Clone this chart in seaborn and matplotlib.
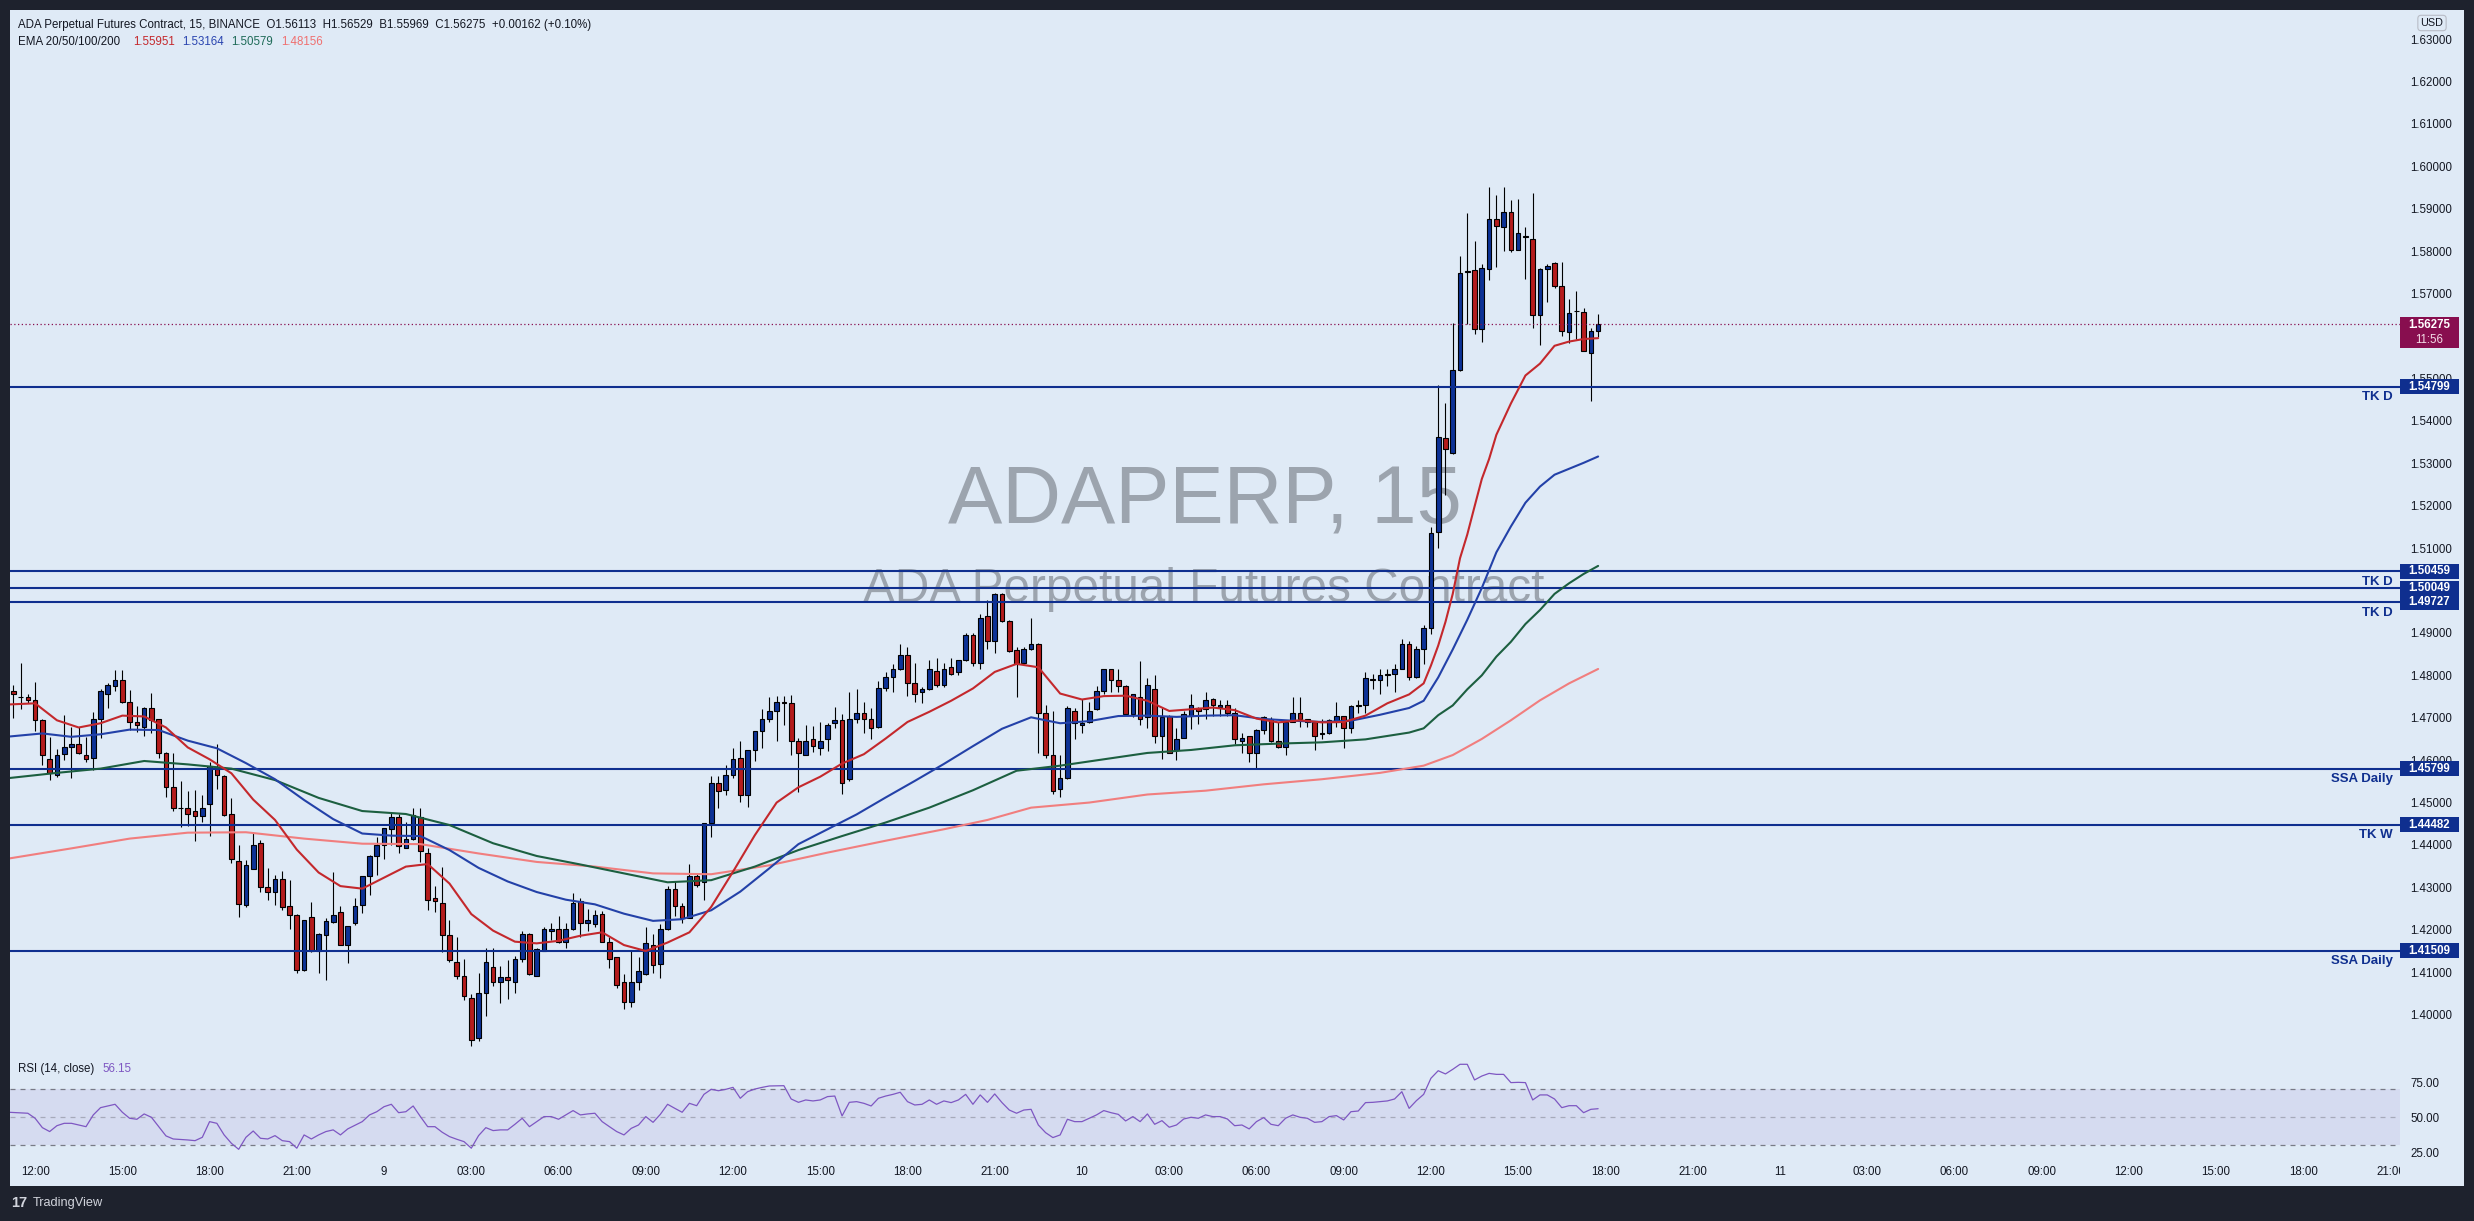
import numpy as np
import pandas as pd
import matplotlib
matplotlib.use("Agg")
import matplotlib.pyplot as plt
from matplotlib.patches import Rectangle
import seaborn as sns

# ---------------- data ----------------
opens = [
1.4764,1.4750,1.4748,1.4743,1.4694,1.4602,1.4566,1.4614,1.4632,1.4637,
1.4613,1.4606,1.4696,1.4757,1.4776,1.4790,1.4736,1.4689,1.4679,1.4724,
1.4696,1.4616,1.4536,1.4488,1.4486,1.4479,1.4469,1.4496,1.4580,1.4562,
1.4474,1.4363,1.4258,1.4344,1.4404,1.4302,1.4290,1.4319,1.4255,1.4236,
1.4106,1.4229,1.4149,1.4187,1.4219,1.4242,1.4165,1.4216,1.4259,1.4326,
1.4374,1.4401,1.4438,1.4467,1.4394,1.4413,1.4466,1.4380,1.4276,1.4262,
1.4187,1.4125,1.4090,1.4040,1.3946,1.4050,1.4113,1.4078,1.4088,1.4078,
1.4132,1.4191,1.4092,1.4151,1.4196,1.4203,1.4172,1.4201,1.4269,1.4215,
1.4213,1.4238,1.4172,1.4135,1.4076,1.4029,1.4076,1.4095,1.4165,1.4120,
1.4201,1.4297,1.4255,1.4228,1.4326,1.4312,1.4451,1.4545,1.4529,1.4566,
1.4604,1.4519,1.4623,1.4668,1.4698,1.4717,1.4738,1.4734,1.4644,1.4613,
1.4649,1.4628,1.4651,1.4687,1.4694,1.4556,1.4696,1.4710,1.4698,1.4677,
1.4769,1.4797,1.4814,1.4847,1.4783,1.4760,1.4767,1.4811,1.4778,1.4819,
1.4809,1.4835,1.4894,1.4828,1.4939,1.4882,1.4992,1.4929,1.4859,1.4828,
1.4861,1.4875,1.4710,1.4613,1.4533,1.4557,1.4717,1.4684,1.4689,1.4720,
1.4764,1.4814,1.4788,1.4776,1.4708,1.4748,1.4701,1.4767,1.4656,1.4705,
1.4623,1.4653,1.4705,1.4724,1.4720,1.4745,1.4726,1.4729,1.4712,1.4646,
1.4656,1.4616,1.4672,1.4698,1.4644,1.4630,1.4691,1.4710,1.4696,1.4689,
1.4661,1.4663,1.4691,1.4703,1.4675,1.4727,1.4729,1.4790,1.4790,1.4800,
1.4802,1.4816,1.4873,1.4795,1.4861,1.4912,1.5137,1.5360,1.5324,1.5519,
1.5751,1.5756,1.5617,1.5758,1.5877,1.5856,1.5893,1.5803,1.5834,1.5829,
1.5650,1.5759,1.5772,1.5718,1.5609,1.5658,1.5657,1.5561,1.56113]

highs = [
1.4777,1.4828,1.4756,1.4784,1.4697,1.4654,1.4626,1.4706,1.4677,1.4679,
1.4655,1.4714,1.4767,1.4782,1.4812,1.4812,1.4765,1.4727,1.4726,1.4759,
1.4698,1.4620,1.4618,1.4551,1.4527,1.4529,1.4519,1.4596,1.4639,1.4564,
1.4510,1.4400,1.4364,1.4429,1.4411,1.4346,1.4329,1.4338,1.4317,1.4238,
1.4224,1.4265,1.4193,1.4227,1.4336,1.4256,1.4210,1.4275,1.4327,1.4376,
1.4419,1.4440,1.4478,1.4474,1.4455,1.4487,1.4486,1.4394,1.4303,1.4347,
1.4223,1.4183,1.4131,1.4048,1.4097,1.4158,1.4158,1.4115,1.4128,1.4138,
1.4196,1.4193,1.4158,1.4207,1.4215,1.4232,1.4215,1.4286,1.4275,1.4248,
1.4246,1.4245,1.4183,1.4137,1.4095,1.4151,1.4136,1.4206,1.4191,1.4214,
1.4303,1.4314,1.4264,1.4356,1.4333,1.4452,1.4562,1.4562,1.4589,1.4628,
1.4644,1.4625,1.4669,1.4720,1.4748,1.4752,1.4752,1.4753,1.4653,1.4683,
1.4680,1.4689,1.4687,1.4725,1.4708,1.4760,1.4767,1.4736,1.4722,1.4787,
1.4808,1.4826,1.4875,1.4866,1.4828,1.4773,1.4837,1.4840,1.4828,1.4842,
1.4837,1.4899,1.4899,1.4944,1.4977,1.4995,1.4995,1.4931,1.4866,1.4866,
1.4935,1.4877,1.4731,1.4715,1.4611,1.4727,1.4722,1.4745,1.4738,1.4776,
1.4816,1.4816,1.4816,1.4778,1.4757,1.4834,1.4793,1.4800,1.4722,1.4707,
1.4675,1.4717,1.4757,1.4726,1.4760,1.4747,1.4742,1.4742,1.4724,1.4663,
1.4658,1.4673,1.4705,1.4701,1.4691,1.4694,1.4750,1.4750,1.4698,1.4691,
1.4698,1.4698,1.4736,1.4705,1.4729,1.4743,1.4807,1.4802,1.4816,1.4814,
1.4826,1.4885,1.4880,1.4868,1.4918,1.5149,1.5484,1.5442,1.5631,1.5788,
1.5889,1.5824,1.5769,1.5951,1.5932,1.5951,1.5921,1.5923,1.5858,1.5937,
1.5760,1.5771,1.5774,1.5775,1.5688,1.5707,1.5666,1.5618,1.56529]

lows = [
1.4700,1.4720,1.4734,1.4669,1.4589,1.4553,1.4560,1.4600,1.4559,1.4615,
1.4596,1.4576,1.4653,1.4723,1.4764,1.4735,1.4672,1.4667,1.4657,1.4665,
1.4606,1.4514,1.4481,1.4443,1.4444,1.4410,1.4455,1.4422,1.4532,1.4468,
1.4358,1.4231,1.4254,1.4343,1.4289,1.4271,1.4258,1.4246,1.4202,1.4099,
1.4102,1.4147,1.4099,1.4081,1.4217,1.4164,1.4122,1.4211,1.4240,1.4281,
1.4329,1.4367,1.4401,1.4380,1.4393,1.4412,1.4360,1.4246,1.4242,1.4148,
1.4125,1.4085,1.4034,1.3926,1.3938,1.3997,1.4068,1.4028,1.4036,1.4052,
1.4123,1.4094,1.4091,1.4150,1.4176,1.4168,1.4156,1.4200,1.4183,1.4197,
1.4207,1.4171,1.4111,1.4062,1.4014,1.4018,1.4058,1.4094,1.4099,1.4087,
1.4200,1.4233,1.4217,1.4227,1.4301,1.4271,1.4419,1.4488,1.4518,1.4558,
1.4502,1.4490,1.4599,1.4629,1.4691,1.4646,1.4684,1.4613,1.4524,1.4612,
1.4620,1.4613,1.4622,1.4675,1.4521,1.4550,1.4687,1.4665,1.4651,1.4676,
1.4764,1.4761,1.4813,1.4752,1.4738,1.4734,1.4766,1.4773,1.4773,1.4800,
1.4800,1.4833,1.4823,1.4814,1.4861,1.4852,1.4926,1.4854,1.4749,1.4827,
1.4860,1.4618,1.4604,1.4521,1.4514,1.4556,1.4649,1.4665,1.4688,1.4719,
1.4757,1.4760,1.4760,1.4706,1.4701,1.4682,1.4675,1.4641,1.4603,1.4616,
1.4601,1.4652,1.4673,1.4686,1.4698,1.4705,1.4705,1.4703,1.4639,1.4618,
1.4595,1.4580,1.4661,1.4642,1.4628,1.4611,1.4690,1.4677,1.4677,1.4625,
1.4649,1.4662,1.4679,1.4628,1.4665,1.4712,1.4710,1.4767,1.4757,1.4776,
1.4760,1.4814,1.4788,1.4794,1.4826,1.4898,1.5100,1.5226,1.5322,1.5517,
1.5629,1.5604,1.5585,1.5732,1.5763,1.5800,1.5798,1.5802,1.5734,1.5620,
1.5579,1.5680,1.5713,1.5601,1.5584,1.5594,1.5564,1.5446,1.55969]

closes = [
1.4755,1.4748,1.4743,1.4694,1.4611,1.4569,1.4613,1.4632,1.4637,1.4617,
1.4602,1.4696,1.4763,1.4777,1.4790,1.4736,1.4689,1.4684,1.4722,1.4694,
1.4617,1.4536,1.4488,1.4487,1.4472,1.4469,1.4488,1.4587,1.4564,1.4470,
1.4366,1.4260,1.4352,1.4399,1.4301,1.4290,1.4319,1.4253,1.4236,1.4106,
1.4222,1.4149,1.4191,1.4220,1.4234,1.4165,1.4209,1.4257,1.4326,1.4375,
1.4401,1.4439,1.4466,1.4397,1.4413,1.4471,1.4385,1.4271,1.4267,1.4187,
1.4128,1.4090,1.4043,1.3941,1.4050,1.4123,1.4078,1.4088,1.4082,1.4130,
1.4191,1.4095,1.4154,1.4201,1.4203,1.4172,1.4203,1.4263,1.4217,1.4222,
1.4234,1.4172,1.4132,1.4069,1.4029,1.4076,1.4102,1.4170,1.4118,1.4201,
1.4295,1.4255,1.4227,1.4326,1.4305,1.4451,1.4545,1.4528,1.4566,1.4602,
1.4519,1.4623,1.4668,1.4698,1.4717,1.4738,1.4734,1.4644,1.4616,1.4646,
1.4633,1.4646,1.4684,1.4694,1.4547,1.4696,1.4712,1.4698,1.4675,1.4769,
1.4797,1.4815,1.4847,1.4783,1.4755,1.4767,1.4814,1.4778,1.4816,1.4804,
1.4835,1.4894,1.4828,1.4936,1.4880,1.4991,1.4929,1.4858,1.4826,1.4861,
1.4873,1.4710,1.4613,1.4528,1.4557,1.4724,1.4687,1.4687,1.4717,1.4764,
1.4814,1.4790,1.4776,1.4708,1.4755,1.4698,1.4778,1.4658,1.4701,1.4618,
1.4649,1.4708,1.4729,1.4717,1.4743,1.4731,1.4729,1.4710,1.4649,1.4653,
1.4616,1.4672,1.4701,1.4644,1.4632,1.4691,1.4710,1.4696,1.4689,1.4658,
1.4663,1.4694,1.4703,1.4675,1.4727,1.4731,1.4793,1.4791,1.4800,1.4802,
1.4816,1.4873,1.4795,1.4861,1.4911,1.5135,1.5362,1.5334,1.5519,1.5749,
1.5754,1.5617,1.5760,1.5877,1.5860,1.5893,1.5803,1.5842,1.5836,1.5650,
1.5758,1.5766,1.5718,1.5613,1.5654,1.5660,1.5564,1.5612,1.56275]

ema20_bar = [0,4,7,10,13,16,19,22,25,28,31,34,37,40,43,46,49,52,55,58,61,64,67,70,73,76,79,82,85,88,
             91,94,97,100,103,106,109,112,115,118,121,124,127,130,133,136,139,142,145,148,151,154,157,160,
             163,166,169,172,175,178,181,184,187,190,193,195,196,197,198,199,200,201,202,203,204,205,
             207,209,211,213,215,217,219]
ema20 = [1.4731,1.4734,1.4694,1.4677,1.4687,1.4705,1.4703,1.4677,1.4630,1.4602,1.4569,1.4507,1.4459,
         1.4389,1.4335,1.4303,1.4297,1.4323,1.4349,1.4355,1.4309,1.4237,1.4198,1.4172,1.4168,1.4174,
         1.4186,1.4194,1.4164,1.4150,1.4170,1.4194,1.4254,1.4337,1.4423,1.4500,1.4536,1.4561,1.4592,
         1.4614,1.4651,1.4690,1.4714,1.4740,1.4769,1.4808,1.4827,1.4819,1.4757,1.4743,1.4751,1.4752,
         1.4740,1.4716,1.4720,1.4724,1.4718,1.4698,1.4689,1.4694,1.4689,1.4690,1.4705,1.4734,1.4755,
         1.4781,1.4823,1.4870,1.4926,1.4992,1.5076,1.5132,1.5198,1.5263,1.5310,1.5367,
         1.5441,1.5507,1.5535,1.5577,1.5587,1.5593,1.5595]

ema50_bar = [0,5,9,13,17,21,25,29,33,37,41,45,49,53,57,61,65,69,73,77,81,85,89,93,97,101,105,109,
             113,117,121,125,129,133,137,141,145,149,153,157,161,165,169,173,177,181,185,189,193,
             195,197,199,201,203,205,207,209,211,213,215,217,219]
ema50 = [1.4655,1.4663,1.4655,1.4661,1.4672,1.4671,1.4646,1.4628,1.4593,1.4555,1.4506,1.4461,1.4427,
         1.4422,1.4421,1.4388,1.4346,1.4314,1.4289,1.4271,1.4260,1.4238,1.4221,1.4225,1.4246,1.4290,
         1.4345,1.4402,1.4437,1.4472,1.4512,1.4551,1.4591,1.4633,1.4674,1.4701,1.4687,1.4692,1.4704,
         1.4705,1.4702,1.4705,1.4706,1.4697,1.4693,1.4690,1.4693,1.4707,1.4723,
         1.4740,1.4795,1.4861,1.4931,1.5006,1.5090,1.5151,1.5207,1.5245,1.5273,1.5287,1.5301,1.5316]

ema100_bar = [0,7,13,19,25,31,37,43,49,55,61,67,73,79,85,91,97,103,109,115,121,127,133,139,145,151,
              157,163,169,175,181,187,193,195,197,199,201,203,205,207,209,211,213,215,217,219]
ema100 = [1.4557,1.4570,1.4580,1.4598,1.4590,1.4580,1.4553,1.4511,1.4480,1.4473,1.4447,1.4404,1.4374,
          1.4354,1.4333,1.4312,1.4317,1.4349,1.4388,1.4421,1.4453,1.4488,1.4529,1.4575,1.4587,1.4602,
          1.4617,1.4624,1.4635,1.4639,1.4642,1.4649,1.4665,1.4675,1.4706,1.4729,1.4767,1.4800,1.4844,
          1.4879,1.4921,1.4954,1.4992,1.5017,1.5039,1.5058]

ema200_bar = [0,9,17,25,33,41,49,57,65,73,81,89,97,105,113,121,129,135,141,149,157,165,173,181,189,
              195,199,203,207,211,215,219]
ema200 = [1.4367,1.4392,1.4415,1.4429,1.4430,1.4415,1.4403,1.4402,1.4380,1.4360,1.4349,1.4333,1.4331,
          1.4352,1.4382,1.4410,1.4437,1.4459,1.4488,1.4500,1.4519,1.4528,1.4543,1.4555,1.4570,
          1.4587,1.4612,1.4650,1.4694,1.4741,1.4781,1.4815]

rsi_bar = ([0,3,4,5,6,7,8,9,11,12,13,15,16,17,18,19,20,21,22,23,25,26,27,28,29,30,31,32,33,34,35,36,37,
            38,39,40,41,42,43,44,45,46,47,49,50,51,52,53,54,55,56,57,58,59,60,61,62,63,64,65,66,67,68,69,
            70,71,72,73,74,75,76,77,78,79,80,81,82,83,84,85,86,87,88,89,90,91,92,93,94,95,96,97,98,99,
            100,101,102,103,104,105,107,108,109,110,111] + list(range(112, 220)))
rsi = [53.7,52.9,49.3,42.6,39.8,44.0,45.7,45.7,43.3,51.7,56.9,59.3,53.6,49.3,48.6,52.4,50.0,43.3,36.7,
       34.5,33.8,33.3,35.7,46.9,45.7,37.4,31.4,27.1,35.7,40.2,35.0,34.5,36.9,33.3,32.6,27.9,37.4,34.5,
       37.4,39.8,41.0,37.4,41.7,46.9,51.7,54.0,57.6,59.3,53.3,54.0,58.1,50.5,43.3,43.3,39.3,36.2,34.3,
       32.6,27.9,36.9,42.6,40.5,41.0,41.0,45.0,49.3,43.3,46.9,50.5,50.5,48.6,51.7,54.8,51.7,52.4,52.9,
       46.9,43.3,39.8,37.4,42.1,44.5,50.5,46.4,52.1,59.3,56.4,53.6,60.0,58.3,66.4,70.0,69.0,70.0,71.4,
       63.6,68.3,70.2,71.4,72.4,72.6,63.1,60.7,62.4,61.7,
       62.4,64.8,65.2,51.0,60.7,61.2,60.0,58.1,63.6,65.2,66.4,67.9,61.2,58.8,59.3,62.4,59.3,61.7,60.5,
       62.4,66.4,59.3,66.0,60.7,66.7,60.5,55.2,52.9,55.2,55.7,44.5,39.0,35.5,37.4,48.6,46.9,46.9,49.3,
       51.7,54.8,53.3,52.1,47.4,50.5,46.9,52.4,45.0,47.6,42.9,44.5,48.8,50.0,49.3,51.7,50.5,50.5,48.8,
       44.0,44.5,41.7,46.9,49.8,45.0,44.0,49.3,51.7,50.0,49.3,46.4,46.9,50.5,51.2,48.1,54.0,54.5,60.5,
       60.7,61.2,61.7,63.1,68.3,56.4,61.9,66.4,77.9,83.3,81.0,84.3,87.9,87.9,76.7,79.5,81.4,80.7,80.7,
       74.8,75.0,74.8,62.4,66.0,66.0,63.1,56.9,58.3,58.3,53.3,55.7,56.15]

level_prices = [1.54799, 1.50459, 1.50049, 1.49727, 1.45799, 1.44482, 1.41509]
level_names = ["TK D", "TK D", "", "TK D", "SSA Daily", "TK W", "SSA Daily"]
last_price = 1.56275
bar_countdown = "11:56"
# 1.50000 and 1.56000 are hidden behind the axis boxes in the reference
price_ticks = [1.40, 1.41, 1.42, 1.43, 1.44, 1.45, 1.46, 1.47, 1.48, 1.49, 1.51,
               1.52, 1.53, 1.54, 1.55, 1.57, 1.58, 1.59, 1.60, 1.61, 1.62, 1.63]
rsi_ticks = [25, 50, 75]
time_labels = ["12:00", "15:00", "18:00", "21:00", "9", "03:00", "06:00", "09:00", "12:00", "15:00",
               "18:00", "21:00", "10", "03:00", "06:00", "09:00", "12:00", "15:00", "18:00", "21:00",
               "11", "03:00", "06:00", "09:00", "12:00", "15:00", "18:00", "21:00"]
header_1 = ("ADA Perpetual Futures Contract, 15, BINANCE  O1.56113  H1.56529  "
            "B1.55969  C1.56275  +0.00162 (+0.10%)")
ema_title = "EMA 20/50/100/200"
ema_last = ["1.55951", "1.53164", "1.50579", "1.48156"]
rsi_title = "RSI (14, close)"
rsi_last = "56.15"

assert len(opens) == len(highs) == len(lows) == len(closes) == 219
assert len(ema20_bar) == len(ema20) and len(ema50_bar) == len(ema50)
assert len(ema100_bar) == len(ema100) and len(ema200_bar) == len(ema200)
assert len(rsi_bar) == len(rsi)

# ---------------- style ----------------
sns.set_theme(style="white")
plt.rcParams['font.family'] = ['Liberation Sans', 'DejaVu Sans']

W, H = 2474, 1221
BG = '#dfeaf6'
DARK = '#1e222d'
TXT = '#131722'
NAVY = '#0f2f8f'
UP = '#0d3296'
DOWN = '#b51c1c'
MAROON = '#880e4f'
C20, C50, C100, C200 = '#c4282c', '#2341a8', '#1c5f40', '#f17e7e'
FS = 8.3

fig = plt.figure(figsize=(W / 100, H / 100), dpi=100, facecolor=DARK)


def rect(x0, y0, x1, y1):
    return [x0 / W, 1 - y1 / H, (x1 - x0) / W, (y1 - y0) / H]


fig.add_artist(Rectangle((10 / W, 1 - 1186 / H), 2454 / W, 1176 / H, transform=fig.transFigure,
                         fc=BG, ec='none', zorder=-10))

ax = fig.add_axes(rect(10, 10, 2400, 1056))
ax_r = fig.add_axes(rect(10, 1058, 2400, 1158))
ax_t = fig.add_axes(rect(10, 1158, 2400, 1186))
XLIM = (0.546, 329.3)

# ---------------- price pane ----------------
bars = np.arange(1, len(closes) + 1)
o, hi, lo, c = map(np.array, (opens, highs, lows, closes))
is_up = c >= o
ax.vlines(bars, lo, hi, color='black', linewidth=0.8, zorder=2)
ax.bar(bars, np.maximum(np.abs(c - o), 0.00006), bottom=np.minimum(o, c), width=0.64,
       color=np.where(is_up, UP, DOWN), edgecolor='black', linewidth=0.8, zorder=2.5)

for p in level_prices:
    ax.axhline(p, color=NAVY, linewidth=1.5, zorder=3)
ax.axhline(last_price, color=MAROON, linewidth=0.9, linestyle=(0, (1, 2)), zorder=3)

for xs, ys, col in ((ema200_bar, ema200, C200), (ema100_bar, ema100, C100),
                    (ema50_bar, ema50, C50), (ema20_bar, ema20, C20)):
    sns.lineplot(x=xs, y=ys, ax=ax, color=col, linewidth=1.5, zorder=3.5, estimator=None)

ax.set_xlim(*XLIM)
ax.set_ylim(1.39024, 1.63688)
ax.set_xlabel('')
ax.set_ylabel('')
ax.set_xticks([])
ax.yaxis.tick_right()
ax.set_yticks(price_ticks)
ax.set_yticklabels([f"{t:.5f}" for t in price_ticks])
ax.tick_params(axis='y', length=0, pad=7.2, labelsize=FS, labelcolor=TXT)

# watermark
ax.text(1204.5 / W, 1 - 524 / H, "ADAPERP, 15", transform=fig.transFigure, ha='center',
        va='baseline', fontsize=58.6, color='#9ca4ae', zorder=0.5)
ax.text(1204 / W, 1 - 601.7 / H, "ADA Perpetual Futures Contract", transform=fig.transFigure,
        ha='center', va='baseline', fontsize=34.4, color='#9ca4ae', zorder=0.5)

# ---------------- RSI pane ----------------
ax_r.axhspan(30, 70, color='#7e57c2', alpha=0.1, linewidth=0, zorder=0)
ax_r.axhline(70, color='#787b86', linewidth=0.9, linestyle=(0, (4, 4)), zorder=1)
ax_r.axhline(50, color='#787b86', linewidth=0.9, linestyle=(0, (4, 4)), alpha=0.5, zorder=1)
ax_r.axhline(30, color='#787b86', linewidth=0.9, linestyle=(0, (4, 4)), zorder=1)
sns.lineplot(x=rsi_bar, y=rsi, ax=ax_r, color='#7e57c2', linewidth=0.9, zorder=3, estimator=None)
ax_r.set_xlim(*XLIM)
ax_r.set_ylim(20.9, 92.4)
ax_r.set_xlabel('')
ax_r.set_ylabel('')
ax_r.set_xticks([])
ax_r.yaxis.tick_right()
ax_r.set_yticks(rsi_ticks)
ax_r.set_yticklabels([f"{t:.2f}" for t in rsi_ticks])
ax_r.tick_params(axis='y', length=0, pad=7.2, labelsize=FS, labelcolor=TXT)

# ---------------- time axis ----------------
bar_time = pd.date_range("2021-12-08 11:15", periods=330, freq="15min")
grid = np.arange(1, 331)
tick_bars = grid[(bar_time.minute == 0) & (bar_time.hour % 3 == 0)][:len(time_labels)]
ax_t.set_xlim(*XLIM)
ax_t.set_ylim(0, 1)
ax_t.set_xticks([])
ax_t.set_yticks([])
for pos, lab in zip(tick_bars, time_labels):
    t = ax_t.text(pos, 0.5, lab, ha='center', va='center', fontsize=FS, color=TXT)
    t.set_clip_on(True)
    t.set_clip_box(ax_t.bbox)

for a in (ax, ax_r, ax_t):
    a.set_facecolor('none')
    for s in a.spines.values():
        s.set_visible(False)

# ---------------- axis labels / boxes ----------------
def y_px(p):
    return ax.transData.transform((1, p))[1]


for p, name in zip(level_prices, level_names):
    yp = y_px(p)
    fig.add_artist(Rectangle((2400 / W, (yp - 7.5) / H), 59 / W, 15 / H, transform=fig.transFigure,
                             fc=NAVY, ec='none', zorder=5))
    fig.text(2429.5 / W, yp / H, f"{p:.5f}", ha='center', va='center', color='white',
             fontsize=FS, fontweight='bold', zorder=6)
    if name:
        fig.text(2393 / W, (yp - 10.5) / H, name, ha='right', va='center', color=NAVY,
                 fontsize=9.5, fontweight='bold', zorder=6)

yp = y_px(last_price)
fig.add_artist(Rectangle((2400 / W, (yp - 23.5) / H), 59 / W, 31 / H, transform=fig.transFigure,
                         fc=MAROON, ec='none', zorder=5))
fig.text(2429.5 / W, (yp - 0.5) / H, f"{last_price:.5f}", ha='center', va='center', color='white',
         fontsize=FS, fontweight='bold', zorder=6)
fig.text(2429.5 / W, (yp - 15.5) / H, bar_countdown, ha='center', va='center', color='#f3dbe6',
         fontsize=FS, zorder=6)

fig.text(2432 / W, 1 - 23 / H, "USD", ha='center', va='center', color=TXT, fontsize=7.8, zorder=6,
         bbox=dict(boxstyle='round,pad=0.25,rounding_size=0.3', fc=BG, ec='#b8bcc6', lw=0.8))

# ---------------- legends ----------------
fig.text(18 / W, 1 - 25 / H, header_1, ha='left', va='center', color=TXT, fontsize=FS)
fig.text(18 / W, 1 - 42 / H, ema_title, ha='left', va='center', color=TXT, fontsize=FS)
for xp, val, col in zip([133, 182, 231, 281], ema_last, [C20, '#2a45b0', '#1f6b58', '#ef7070']):
    fig.text(xp / W, 1 - 42 / H, val, ha='left', va='center', color=col, fontsize=FS)
fig.text(18 / W, 1 - 1069 / H, rsi_title, ha='left', va='center', color=TXT, fontsize=FS)
fig.text(102 / W, 1 - 1069 / H, rsi_last, ha='left', va='center', color='#7e57c2', fontsize=FS)

# TradingView footer
fig.text(11 / W, 1 - 1203 / H, "17", ha='left', va='center', color='#d1d4dc', fontsize=10.5,
         fontweight='heavy')
fig.text(33 / W, 1 - 1203 / H, "TradingView", ha='left', va='center', color='#d1d4dc', fontsize=9.2)

fig.savefig("out.png", dpi=100, facecolor=DARK)
